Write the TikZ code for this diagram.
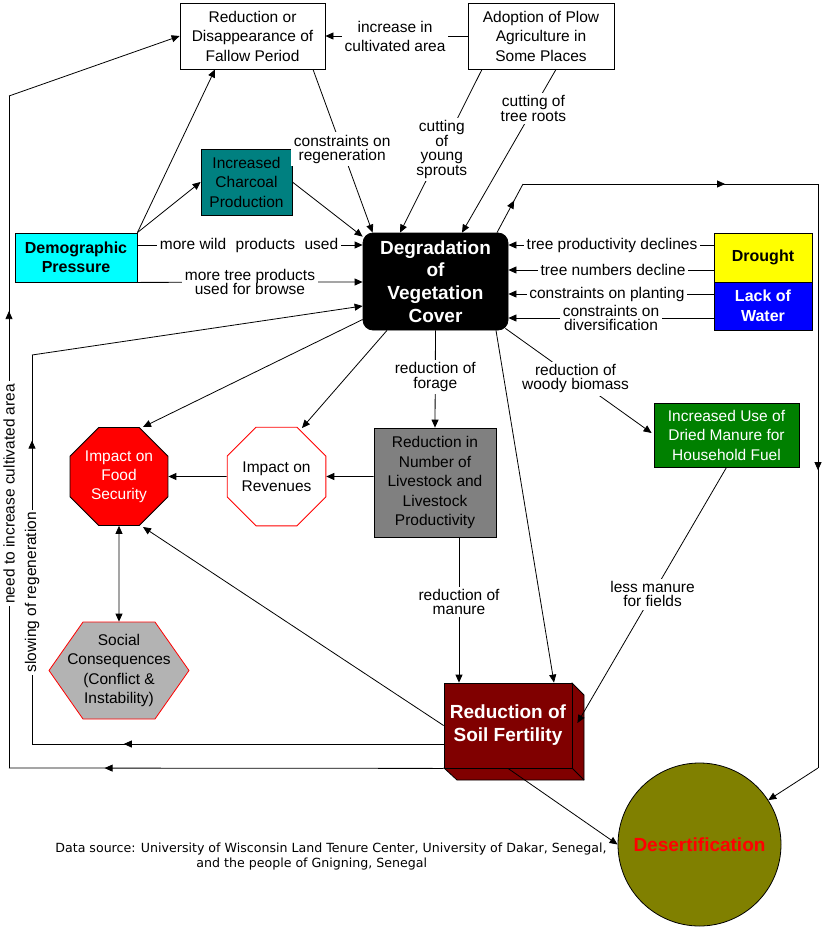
\documentclass[tikz,border=0pt]{standalone}
\usepackage{fontspec}
\setmainfont{Liberation Sans}
\newfontfamily\dejavu{DejaVu Sans}
\usetikzlibrary{arrows.meta,shapes.geometric,calc,decorations.markings}
\definecolor{tealc}{HTML}{008080}
\definecolor{cyanc}{HTML}{00FFFF}
\definecolor{yellowc}{HTML}{FFFF00}
\definecolor{bluec}{HTML}{0000FF}
\definecolor{redc}{HTML}{FF0000}
\definecolor{greenc}{HTML}{008000}
\definecolor{grayc}{HTML}{808080}
\definecolor{lgrayc}{HTML}{B3B3B3}
\definecolor{soilc}{HTML}{800000}
\definecolor{olivec}{HTML}{808000}
\begin{document}
\begin{tikzpicture}[x=1pt,y=-1pt,line width=0.8pt,
  >={Triangle[length=8pt,width=7pt]},
  every node/.style={align=center,font=\fontsize{15.5}{19.5}\selectfont},
  box/.style={draw=black,inner sep=0pt},
  lbl/.style={fill=white,inner sep=2.5pt,font=\fontsize{15.5}{14.5}\selectfont},
  midtip/.style={postaction={decorate},decoration={markings,mark=at position #1 with {\arrow{Triangle[length=8pt,width=7pt]}}}}
]
\fill[white] (0,0) rectangle (828,927);
\useasboundingbox (0,0) rectangle (828,927);

% nodes
\node[box,fill=white,minimum width=145,minimum height=66] (fallow) at (252.5,36) {Reduction or\\Disappearance of\\Fallow Period};
\node[box,fill=white,minimum width=146,minimum height=66] (plow) at (541,36) {Adoption of Plow\\Agriculture in\\Some Places};
\node[box,fill=tealc,minimum width=91,minimum height=66] (char) at (246.5,182) {Increased\\Charcoal\\Production};
\node[box,fill=cyanc,minimum width=122,minimum height=49,font=\bfseries\fontsize{16}{19}\selectfont] (demo) at (76,257.5) {Demographic\\Pressure};
\node[box,fill=black,rounded corners=10pt,text=white,minimum width=145,minimum height=97,font=\bfseries\fontsize{19}{22.7}\selectfont] (deg) at (435.5,281.5) {Degradation\\of\\Vegetation\\Cover};
\node[box,fill=yellowc,minimum width=98,minimum height=49,font=\bfseries\fontsize{16}{20}\selectfont] (drought) at (763,257.5) {Drought};
\node[box,fill=bluec,text=white,minimum width=98,minimum height=48,font=\bfseries\fontsize{16}{20}\selectfont] (water) at (763,306) {Lack of\\Water};
\node[draw=black,regular polygon,regular polygon sides=8,minimum size=106,inner sep=0pt,fill=redc,text=white,font=\fontsize{15.5}{19}\selectfont] (food) at (119,476.5) {Impact on\\Food\\Security};
\node[draw=redc,regular polygon,regular polygon sides=8,minimum size=106,inner sep=0pt,fill=white,font=\fontsize{15.5}{19}\selectfont] (rev) at (276.5,476.5) {Impact on\\Revenues};
\node[box,fill=grayc,minimum width=122,minimum height=109] (live) at (435,482.5) {Reduction in\\Number of\\Livestock and\\Livestock\\Productivity};
\node[box,fill=greenc,text=white,minimum width=145,minimum height=64] (manure) at (726.5,435) {Increased Use of\\Dried Manure for\\Household Fuel};
\filldraw[fill=lgrayc,draw=redc] (49,670.5) -- (83,622) -- (155,622) -- (189,670.5) -- (155,719) -- (83,719) -- cycle;
\node[inner sep=0pt,minimum width=140,minimum height=97] (soc) at (119,670.5) {Social\\Consequences\\(Conflict \&\\Instability)};
\filldraw[fill=soilc,draw=black] (572,683) -- (584,695) -- (584,780) -- (457,780) -- (444,768) -- cycle;
\draw (572,768) -- (584,780);
\node[box,fill=soilc,text=white,minimum width=128,minimum height=85,font=\bfseries\fontsize{19}{23}\selectfont] (soil) at (508,725.5) {Reduction of\\Soil Fertility};
\node[draw=black,circle,fill=olivec,text=redc,minimum size=163,inner sep=0pt,font=\bfseries\fontsize{19}{23}\selectfont] (desert) at (699.5,844.5) {Desertification};

\node[anchor=west,inner sep=0pt,font=\dejavu\fontsize{12.6}{15}\selectfont] (src1) at (55,849) {Data source: University of Wisconsin Land Tenure Center, University of Dakar, Senegal,};
\node[anchor=west,inner sep=0pt,font=\dejavu\fontsize{12.6}{15}\selectfont] (src2) at (196,864) {and the people of Gnigning, Senegal};

% corner coordinates
\coordinate (rc1) at (523,184);
\coordinate (rc2) at (818,184);
\coordinate (rc3) at (818,768);
\coordinate (oc1) at (9,768);
\coordinate (oc2) at (9,96);
\coordinate (ic1) at (32,744);
\coordinate (ic2) at (32,355);

% top connectors
\draw[->] (plow.west) -- node[lbl,pos=0.51,font=\fontsize{15.5}{19}\selectfont] {increase in\\cultivated area} (fallow.east);
\draw[->] (demo.north east) -- ($(fallow.south)+(-37.5,0)$);
\draw[->] (demo.north east) -- (char.west);
\draw[->] (char.east) -- ($(deg.north west)+(0,4)$);
\draw[->] ($(fallow.south)+(60.5,0)$) -- node[lbl,pos=0.49] {constraints on\\regeneration} ($(deg.north west)+(10,0)$);
\draw[->] ($(plow.south)+(-59,0)$) -- node[lbl,pos=0.49] {cutting\\of\\young\\sprouts} ($(deg.north)+(-35.5,0)$);
\draw[->] ($(plow.south)+(15,0)$) -- node[lbl,pos=0.24] {cutting of\\tree roots} ($(deg.north)+(26.5,0)$);
\draw[->] ($(demo.east)+(0,-12.5)$) -- node[lbl,pos=0.496] {more wild\,\, products\,\, used} ($(deg.west)+(0,-36.5)$);
\draw[->] (demo.south east) -- node[lbl,pos=0.5] {more tree products\\used for browse} ($(deg.west)+(0,0.5)$);

% drought / water
\draw[->] ($(drought.west)+(0,-12.5)$) -- node[lbl,pos=0.495] {tree productivity declines} ($(deg.east)+(0,-36.5)$);
\draw[->] ($(drought.west)+(0,12.5)$) -- node[lbl,pos=0.49] {tree numbers decline} ($(deg.east)+(0,-11.5)$);
\draw[->] ($(water.west)+(0,-12)$) -- node[lbl,pos=0.52] {constraints on planting} ($(deg.east)+(0,12.5)$);
\draw[->] ($(water.west)+(0,12)$) -- node[lbl,pos=0.5] {constraints on\\diversification} ($(deg.east)+(0,36.5)$);

% right loop
\draw[midtip=0.66] ($(deg.north)+(61.5,0)$) -- (rc1);
\draw[midtip=0.685] (rc1) -- (rc2);
\draw[midtip=0.49] (rc2) -- (rc3);
\draw[->] (rc3) -- (desert);

% middle connectors
\draw[->] ($(deg.west)+(0,38)$) -- ($(food)+(24,-49.5)$);
\draw[->] ($(deg.south)+(-48.5,0)$) -- ($(rev)+(25.5,-48.5)$);
\draw[->] (deg.south) -- node[lbl,pos=0.48] {reduction of\\forage} (live.north);
\draw[->] (live.west |- rev) -- (rev.east);
\draw[->] (rev.west) -- (food.east);
\draw[<->] (food.south) -- (soc.north);
\draw[->] ($(deg.south)+(60.5,0)$) -- ($(soil.north)+(46,0)$);
\draw[->] ($(deg.south east)+(-3,-2)$) -- node[lbl,pos=0.48] {reduction of\\woody biomass} ($(manure.west)+(-2,-2)$);
\draw[->] ($(live.south)+(24,0)$) -- node[lbl,pos=0.445] {reduction of\\manure} ($(soil.north)+(-49,0)$);
\draw[->] (manure.south) -- node[lbl,pos=0.496] {less manure\\for fields} ($(soil.east)+(5,-2.5)$);
\draw[->] (soil.west) -- ($(food)+(24,50.5)$);
\draw[->] (soil.south) -- (desert.west);

% left loops
\draw[midtip=0.78] (soil.south west) -- (oc1);
\draw[midtip=0.68] (oc1) -- node[lbl,pos=0.408,rotate=90] {need to increase cultivated area} (oc2);
\draw[->] (oc2) -- (fallow.west);
\draw[midtip=0.777] ($(soil.west)+(0,18.5)$) -- (ic1);
\draw[midtip=0.78] (ic1) -- node[lbl,pos=0.39,rotate=90] {slowing of regeneration} (ic2);
\draw[->] (ic2) -- ($(deg.west)+(0,24.5)$);
\end{tikzpicture}
\end{document}
